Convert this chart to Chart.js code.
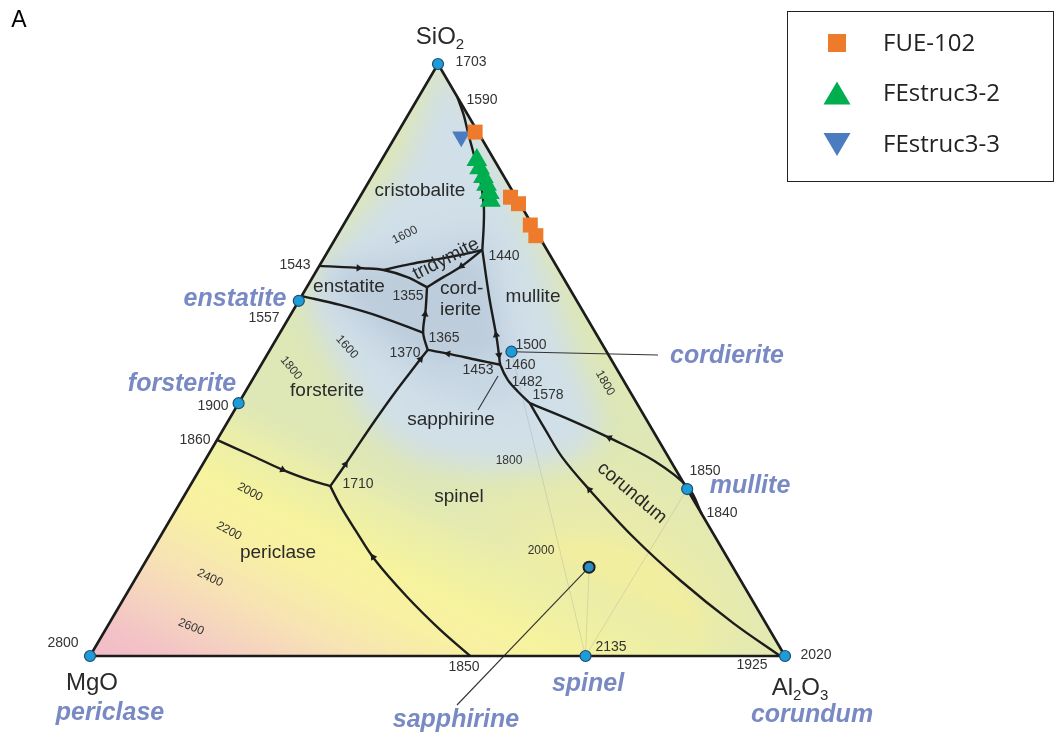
<!DOCTYPE html>
<html>
<head>
<meta charset="utf-8">
<title>MgO–Al2O3–SiO2 liquidus diagram</title>
<script src="https://cdn.jsdelivr.net/npm/chart.js@4.4.1/dist/chart.umd.min.js"></script>
<style>
  html, body { margin: 0; padding: 0; background: #fff; }
  #wrap { width: 1055px; height: 735px; position: relative; }
</style>
</head>
<body>
<div id="wrap"><canvas id="c" width="1055" height="735"></canvas></div>
<script>
// ---------------------------------------------------------------------------
// Compositions are given as [SiO2 wt%, Al2O3 wt%]; MgO is the remainder.
// ---------------------------------------------------------------------------

// Crystalline phases plotted on the diagram
const compoundNames  = ['SiO2', 'MgO', 'Al2O3', 'enstatite', 'forsterite', 'cordierite', 'mullite', 'spinel', 'sapphirine'];
const compoundSiO2   = [100, 0, 0, 60.0, 42.7, 51.4, 28.2, 0, 15.0];
const compoundAl2O3  = [0, 0, 100, 0, 0, 34.9, 71.8, 71.3, 64.3];

// Field boundaries (cotectic / peritectic curves)
const cristobaliteMullite  = [[94.4, 5.6], [91.4, 8.0], [88.3, 10.2], [84.6, 12.9], [80.4, 15.9], [76.2, 18.5], [72.8, 20.2], [68.6, 22.1]];
const cristobaliteTridymite = [[65.2, 9.6], [66.2, 12.9], [67.2, 17.2], [68.1, 20.6], [68.6, 22.1]];
const enstatiteUpper       = [[65.9, 0], [65.5, 6.5], [65.2, 9.6], [64.0, 13.6], [62.3, 17.3]];
const tridymiteCordierite  = [[68.6, 22.1], [65.7, 20.4], [64.0, 18.8], [62.3, 17.3]];
const enstatiteCordierite  = [[62.3, 17.3], [58.5, 19.0], [54.6, 20.6], [51.7, 22.7]];
const forsteriteEnstatite  = [[60.8, 0], [59.3, 6.3], [57.3, 13.1], [54.6, 20.6]];
const cordieriteSapphirine = [[51.7, 22.7], [51.0, 26.3], [50.0, 30.7], [49.2, 34.4]];
const cordieriteMullite    = [[68.6, 22.1], [60.6, 27.1], [53.9, 31.5], [50.5, 33.6], [49.2, 34.4], [46.6, 36.8], [44.6, 39.3], [42.7, 41.9]];
const mulliteCorundum      = [[42.7, 41.9], [39.9, 49.1], [36.8, 56.4], [32.9, 64.8], [28.4, 71.9], [24.0, 76.0]];
const spinelCorundum       = [[42.7, 41.9], [38.2, 46.4], [33.6, 51.1], [28.0, 57.9], [20.1, 68.1], [12.8, 78.5], [5.6, 89.7], [0, 99.3]];
const forsteriteSpinel     = [[51.7, 22.7], [48.6, 22.2], [44.6, 21.6], [39.9, 21.1], [34.8, 20.7], [31.8, 20.5], [28.7, 20.2]];
const periclaseForsterite  = [[36.5, 0], [34.0, 6.0], [31.4, 12.1], [29.7, 16.8], [28.7, 20.2]];
const periclaseSpinel      = [[28.7, 20.2], [25.5, 23.2], [21.3, 27.5], [16.2, 32.9], [10.0, 40.6], [4.4, 48.2], [0, 54.7]];

// Sample series
const fue102SiO2      = [88.5, 77.5, 76.4, 72.8, 71.0];
const fue102Al2O3     = [11.1, 21.7, 23.4, 26.9, 28.6];
const festruc32SiO2   = [83.8, 82.4, 80.9, 79.6, 78.2, 76.9];
const festruc32Al2O3  = [13.7, 14.8, 16.1, 17.2, 18.3, 19.1];
const festruc33SiO2   = [87.7];
const festruc33Al2O3  = [9.5];

// Temperature-fall arrows: [curve, segment, position along segment, direction]
const arrowMarks = [
  [enstatiteUpper, 0, 0.9, 1],
  [tridymiteCordierite, 0, 0.95, 1],
  [enstatiteCordierite, 1, 0.2, -1],
  [cordieriteSapphirine, 0, 0.9, -1],
  [cordieriteMullite, 1, 0.95, -1],
  [cordieriteMullite, 2, 0.9, 1],
  [forsteriteSpinel, 0, 0.5, -1],
  [forsteriteSpinel, 4, 0.8, -1],
  [periclaseForsterite, 1, 0.98, 1],
  [periclaseSpinel, 2, 0.9, -1],
  [mulliteCorundum, 1, 0.98, -1],
  [spinelCorundum, 2, 0.98, -1]
];

// ---------------------------------------------------------------------------
// Ternary projection onto the drawing plane
// ---------------------------------------------------------------------------
const CORNER_SIO2  = { x: 438, y: 64 };
const CORNER_MGO   = { x: 90,  y: 656 };
const CORNER_AL2O3 = { x: 785, y: 656 };

function tern(sio2, al2o3) {
  const s = sio2 / 100, a = al2o3 / 100, m = 1 - s - a;
  return {
    x: m * CORNER_MGO.x + a * CORNER_AL2O3.x + s * CORNER_SIO2.x,
    y: m * CORNER_MGO.y + a * CORNER_AL2O3.y + s * CORNER_SIO2.y
  };
}
const toPts = (arr) => arr.map(p => tern(p[0], p[1]));
const zipPts = (si, al) => si.map((v, i) => tern(v, al[i]));
const compound = (name) => {
  const i = compoundNames.indexOf(name);
  return tern(compoundSiO2[i], compoundAl2O3[i]);
};

// ---------------------------------------------------------------------------
// Text placed on the drawing plane: [text, x, y, style, align, rotation°]
// ---------------------------------------------------------------------------
const labels = [
  ['A', 19, 21, 'panel'],
  ['SiO_2', 440, 37, 'oxide'],
  ['MgO', 92, 683, 'oxide'],
  ['Al_2O_3', 800, 688, 'oxide'],

  ['1703', 471, 62, 'temp'], ['1590', 482, 100, 'temp'], ['1543', 295, 265, 'temp'],
  ['1557', 264, 318, 'temp'], ['1900', 213, 406, 'temp'], ['1860', 195, 440, 'temp'],
  ['2800', 63, 643, 'temp'], ['2020', 816, 655, 'temp'], ['1925', 752, 665, 'temp'],
  ['2135', 611, 647, 'temp'], ['1850', 464, 667, 'temp'], ['1850', 705, 471, 'temp'],
  ['1840', 722, 513, 'temp'], ['1440', 504, 256, 'temp'], ['1355', 408, 296, 'temp'],
  ['1365', 444, 338, 'temp'], ['1370', 405, 353, 'temp'], ['1500', 531, 345, 'temp'],
  ['1460', 520, 365, 'temp'], ['1453', 478, 370, 'temp'], ['1482', 527, 382, 'temp'],
  ['1578', 548, 395, 'temp'], ['1710', 358, 484, 'temp'],

  ['1600', 405, 235, 'iso', 'center', -27], ['1600', 347, 347, 'iso', 'center', 48],
  ['1800', 291, 368, 'iso', 'center', 50], ['2000', 250, 492, 'iso', 'center', 28],
  ['2200', 229, 531, 'iso', 'center', 28], ['2400', 210, 578, 'iso', 'center', 25],
  ['2600', 191, 627, 'iso', 'center', 22], ['1800', 509, 461, 'iso'],
  ['2000', 541, 551, 'iso'], ['1800', 605, 383, 'iso', 'center', 60],

  ['cristobalite', 420, 191, 'field'], ['tridymite', 446, 259, 'field', 'center', -27],
  ['enstatite', 349, 287, 'field'], ['cord-', 440, 289, 'field', 'left'],
  ['ierite', 440, 310, 'field', 'left'], ['mullite', 533, 297, 'field'],
  ['forsterite', 327, 391, 'field'], ['sapphirine', 451, 420, 'field'],
  ['spinel', 459, 497, 'field'], ['periclase', 278, 553, 'field'],
  ['corundum', 632, 493, 'field', 'center', 40],

  ['enstatite', 235, 299, 'mineral'], ['forsterite', 182, 384, 'mineral'],
  ['cordierite', 727, 356, 'mineral'], ['mullite', 750, 486, 'mineral'],
  ['spinel', 588, 684, 'mineral'], ['sapphirine', 456, 720, 'mineral'],
  ['periclase', 110, 713, 'mineral'], ['corundum', 812, 715, 'mineral']
];

const FONT = '"Liberation Sans", Arial, Helvetica, sans-serif';
const textStyles = {
  panel:   { size: 23, style: '', color: '#000' },
  oxide:   { size: 24, style: '', color: '#2a2a2a' },
  temp:    { size: 14, style: '', color: '#333' },
  iso:     { size: 12, style: '', color: '#333' },
  field:   { size: 19, style: '', color: '#2a2a2a' },
  mineral: { size: 25, style: 'italic bold ', color: '#7889c3' }
};

// Leader lines from mineral labels to their compositions
const leaders = [
  [compound('cordierite'), { x: 658, y: 355 }],
  [compound('sapphirine'), { x: 457, y: 705 }],
  [{ x: 498, y: 376 }, { x: 478, y: 410 }]
];
// Faint tie lines
const tieLines = [['spinel', 'sapphirine'], ['spinel', 'mullite'], ['spinel', 'cordierite']];

// Legend rows
const legendRows = [
  { name: 'FUE-102',    color: '#EE7B2C', shape: 'square' },
  { name: 'FEstruc3-2', color: '#00AE4F', shape: 'up' },
  { name: 'FEstruc3-3', color: '#4C7CC0', shape: 'down' }
];

// Background liquidus tints on the drawing plane
const BASE_TINT = 'rgb(222,231,182)';
const tintLayers = [
  { color: 'rgb(208,223,232)', blur: 14, poly: [[438,55],[468,95],[496,150],[522,210],[545,268],[565,325],[583,375],[600,418],[592,452],[548,466],[492,470],[432,462],[392,444],[362,412],[340,372],[320,334],[306,304],[318,270],[340,238],[368,208],[400,168],[420,120],[432,82]] },
  { color: 'rgb(199,214,227)', blur: 12, poly: [[322,270],[365,255],[415,243],[462,232],[486,228],[498,262],[505,310],[515,355],[528,398],[480,405],[430,392],[398,368],[365,338],[330,305]] },
  { color: 'rgb(189,205,220)', blur: 8,  poly: [[340,273],[420,266],[478,258],[492,300],[500,352],[440,362],[400,342],[360,310]] }
];

// ---------------------------------------------------------------------------
// Plugins
// ---------------------------------------------------------------------------
function pathPoly(ctx, pts) {
  ctx.beginPath();
  pts.forEach((p, i) => i ? ctx.lineTo(p.x, p.y) : ctx.moveTo(p.x, p.y));
  ctx.closePath();
}

const shadePlugin = {
  id: 'liquidusShade',
  beforeDatasetsDraw(chart) {
    const { ctx, scales: { x: sx, y: sy } } = chart;
    const P = (p) => ({ x: sx.getPixelForValue(p.x), y: sy.getPixelForValue(p.y) });
    const tri = [tern(100, 0), tern(0, 0), tern(0, 100)].map(P);
    ctx.save();
    pathPoly(ctx, tri);
    ctx.clip();
    ctx.fillStyle = BASE_TINT;
    ctx.fillRect(0, 0, chart.width, chart.height);

    // Warm halo around the spinel composition
    const sp = P(compound('spinel'));
    const rg = ctx.createRadialGradient(sp.x, sp.y, 0, sp.x, sp.y, 240);
    rg.addColorStop(0.0,  'rgba(243,239,158,1)');
    rg.addColorStop(0.46, 'rgba(242,238,160,1)');
    rg.addColorStop(0.54, 'rgba(235,236,168,0.9)');
    rg.addColorStop(0.85, 'rgba(226,233,178,0.6)');
    rg.addColorStop(1.0,  'rgba(222,231,182,0)');
    ctx.fillStyle = rg;
    ctx.fillRect(0, 0, chart.width, chart.height);

    // Periclase isotherm bands rising towards the MgO corner
    const mg = P(CORNER_MGO);
    const g = ctx.createLinearGradient(mg.x, mg.y, mg.x + 0.454 * 310, mg.y - 0.891 * 310);
    g.addColorStop(0.00, 'rgba(241,186,200,1)');
    g.addColorStop(0.12, 'rgba(243,195,198,1)');
    g.addColorStop(0.24, 'rgba(245,210,192,1)');
    g.addColorStop(0.40, 'rgba(247,228,178,1)');
    g.addColorStop(0.56, 'rgba(248,240,163,1)');
    g.addColorStop(0.70, 'rgba(246,243,158,1)');
    g.addColorStop(0.86, 'rgba(236,239,168,0.8)');
    g.addColorStop(1.00, 'rgba(222,231,182,0)');
    ctx.fillStyle = g;
    ctx.fillRect(0, 0, chart.width, chart.height);

    // Low-temperature basin in blue
    tintLayers.forEach(layer => {
      ctx.save();
      ctx.filter = 'blur(' + layer.blur + 'px)';
      ctx.fillStyle = layer.color;
      pathPoly(ctx, layer.poly.map(p => P({ x: p[0], y: p[1] })));
      ctx.fill();
      ctx.restore();
    });
    ctx.restore();
  }
};

function segments(text) {
  const out = [];
  let i = 0;
  while (i < text.length) {
    if (text[i] === '_') { out.push({ t: text[i + 1], sub: true }); i += 2; }
    else {
      let j = i;
      while (j < text.length && text[j] !== '_') j++;
      out.push({ t: text.slice(i, j), sub: false });
      i = j;
    }
  }
  return out;
}

function drawLabel(ctx, text, x, y, styleName, align, rot) {
  const st = textStyles[styleName];
  const main = st.style + st.size + 'px ' + FONT;
  const small = st.style + Math.round(st.size * 0.62) + 'px ' + FONT;
  const segs = segments(text);
  let w = 0;
  segs.forEach(s => { ctx.font = s.sub ? small : main; s.w = ctx.measureText(s.t).width; w += s.w; });
  ctx.save();
  ctx.translate(x, y);
  if (rot) ctx.rotate(rot * Math.PI / 180);
  let cx = align === 'left' ? 0 : align === 'right' ? -w : -w / 2;
  ctx.fillStyle = st.color;
  ctx.textBaseline = 'middle';
  ctx.textAlign = 'left';
  segs.forEach(s => {
    ctx.font = s.sub ? small : main;
    ctx.fillText(s.t, cx, s.sub ? st.size * 0.32 : 0);
    cx += s.w;
  });
  ctx.restore();
}

const textPlugin = {
  id: 'diagramText',
  afterDraw(chart) {
    const { ctx, scales: { x: sx, y: sy } } = chart;
    labels.forEach(l => {
      drawLabel(ctx, l[0], sx.getPixelForValue(l[1]), sy.getPixelForValue(l[2]), l[3], l[4] || 'center', l[5] || 0);
    });

    // Legend box
    ctx.save();
    ctx.strokeStyle = '#222';
    ctx.lineWidth = 1;
    ctx.strokeRect(787.5, 11.5, 266, 170);
    legendRows.forEach((row, i) => {
      const cy = 43 + i * 50.5;
      const cx = 837;
      ctx.fillStyle = row.color;
      ctx.beginPath();
      if (row.shape === 'square') {
        ctx.rect(cx - 9, cy - 9, 18, 18);
      } else if (row.shape === 'up') {
        ctx.moveTo(cx, cy - 12); ctx.lineTo(cx + 13.5, cy + 11); ctx.lineTo(cx - 13.5, cy + 11);
      } else {
        ctx.moveTo(cx - 13.5, cy - 11); ctx.lineTo(cx + 13.5, cy - 11); ctx.lineTo(cx, cy + 12);
      }
      ctx.closePath();
      ctx.fill();
      ctx.fillStyle = '#222';
      ctx.font = '24px "Open Sans", "Noto Sans", sans-serif';
      ctx.textBaseline = 'middle';
      ctx.textAlign = 'left';
      ctx.fillText(row.name, 883, cy + 1);
    });
    ctx.restore();
  }
};

// ---------------------------------------------------------------------------
// Datasets
// ---------------------------------------------------------------------------
const curveList = [cristobaliteMullite, cristobaliteTridymite, enstatiteUpper, tridymiteCordierite,
  enstatiteCordierite, forsteriteEnstatite, cordieriteSapphirine, cordieriteMullite,
  mulliteCorundum, spinelCorundum, forsteriteSpinel, periclaseForsterite, periclaseSpinel];

const datasets = [];

// samples on top
datasets.push({
  label: 'FUE-102', data: zipPts(fue102SiO2, fue102Al2O3), order: 0,
  pointStyle: 'rect', pointRadius: 10.6, backgroundColor: '#EE7B2C', borderWidth: 0
});
datasets.push({
  label: 'FEstruc3-2', data: zipPts(festruc32SiO2, festruc32Al2O3), order: 0,
  pointStyle: 'triangle', pointRadius: 12, backgroundColor: '#00AE4F', borderWidth: 0
});
datasets.push({
  label: 'FEstruc3-3', data: zipPts(festruc33SiO2, festruc33Al2O3), order: 0,
  pointStyle: 'triangle', pointRotation: 180, pointRadius: 10.5, backgroundColor: '#4C7CC0', borderWidth: 0
});

// phase compositions
datasets.push({
  label: 'phases', data: compoundNames.map(compound), order: 1,
  pointStyle: 'circle', pointRadius: 5.5,
  backgroundColor: compoundNames.map(n => n === 'sapphirine' ? '#2a8ec4' : '#1f9bd7'),
  borderColor: compoundNames.map(n => n === 'sapphirine' ? '#1f1f1f' : '#1d4e6e'),
  borderWidth: compoundNames.map(n => n === 'sapphirine' ? 2 : 1.2)
});

// arrows on the boundary curves
const arrowPts = arrowMarks.map(([c, s, t, d]) => {
  const a = c[s], b = c[s + 1];
  return tern(a[0] + (b[0] - a[0]) * t, a[1] + (b[1] - a[1]) * t);
});
const arrowRot = arrowMarks.map(([c, s, t, d]) => {
  const a = tern(c[s][0], c[s][1]), b = tern(c[s + 1][0], c[s + 1][1]);
  return Math.atan2((b.x - a.x) * d, -(b.y - a.y) * d) * 180 / Math.PI;
});
datasets.push({
  label: 'arrows', data: arrowPts, order: 2,
  pointStyle: 'triangle', pointRadius: 4.2, pointRotation: arrowRot,
  backgroundColor: '#1c1c1c', borderWidth: 0
});

// boundary curves
curveList.forEach((c, i) => datasets.push({
  label: 'boundary ' + i, data: toPts(c), order: 5, showLine: true,
  borderColor: '#1c1c1c', borderWidth: 2.4, pointRadius: 0, tension: 0.35, fill: false
}));

// triangle outline
datasets.push({
  label: 'outline', data: toPts([[100, 0], [0, 0], [0, 100], [100, 0]]), order: 5, showLine: true,
  borderColor: '#1c1c1c', borderWidth: 2.6, pointRadius: 0, tension: 0, fill: false
});

// leader lines
leaders.forEach((l, i) => datasets.push({
  label: 'leader ' + i, data: l, order: 6, showLine: true,
  borderColor: '#333', borderWidth: 1.1, pointRadius: 0, tension: 0, fill: false
}));

// tie lines
tieLines.forEach((t, i) => datasets.push({
  label: 'tie ' + i, data: [compound(t[0]), compound(t[1])], order: 7, showLine: true,
  borderColor: 'rgba(150,150,150,0.35)', borderWidth: 0.8, pointRadius: 0, tension: 0, fill: false
}));

new Chart(document.getElementById('c'), {
  type: 'scatter',
  data: { datasets },
  options: {
    responsive: false,
    animation: false,
    events: [],
    layout: { padding: 0, autoPadding: false },
    plugins: { legend: { display: false }, tooltip: { enabled: false }, title: { display: false } },
    scales: {
      x: { type: 'linear', min: 0, max: 1055, display: false },
      y: { type: 'linear', min: 0, max: 735, reverse: true, display: false }
    }
  },
  plugins: [shadePlugin, textPlugin]
});
</script>
</body>
</html>
